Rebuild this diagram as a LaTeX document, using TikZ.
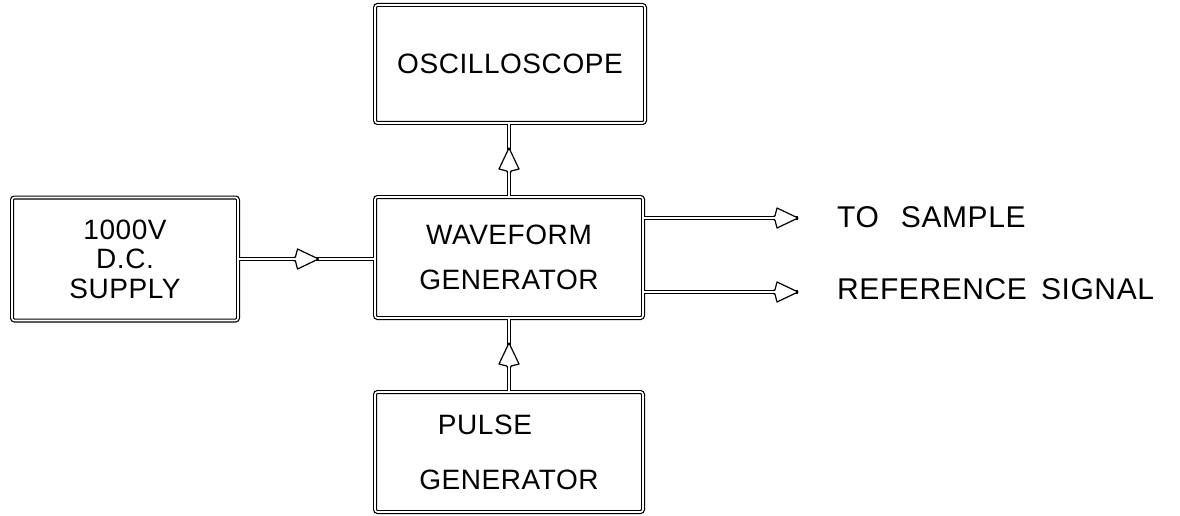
\documentclass[tikz,border=0pt]{standalone}
\usepackage{fontspec}
\newfontfamily\lblfont[LetterSpace=2]{Liberation Sans}
\usetikzlibrary{decorations.markings}
\begin{document}
\begin{tikzpicture}[x=1pt,y=-1pt,
  lbl/.style={font=\lblfont\fontsize{28}{33}\selectfont, align=center},
  sidelbl/.style={font=\lblfont\fontsize{30}{35}\selectfont, inner sep=0pt, anchor=west},
  box/.style={lbl, draw=black, double=white, double distance=1.6pt, line width=1.2pt,
    rounded corners=2.5pt, inner sep=0pt},
  conn/.style={draw=black, double=white, double distance=1.6pt, line width=1.2pt},
  midhead/.style={postaction={decorate}, decoration={markings,
    mark=at position 0.5 with {
      \fill[white] (-11pt,2pt) -- (-9pt,10pt) .. controls (1pt,5pt) .. (12pt,0pt)
        .. controls (1pt,-5pt) .. (-9pt,-10pt) -- (-11pt,-2pt) -- cycle;
      \draw[line width=1.2pt, line join=round] (-13pt,1.4pt) -- (-11pt,2.2pt) -- (-9pt,10pt)
        .. controls (1pt,5pt) .. (12pt,0pt)
        .. controls (1pt,-5pt) .. (-9pt,-10pt) -- (-11pt,-2.2pt) -- (-13pt,-1.4pt);}}},
  endhead/.style={postaction={decorate}, decoration={markings,
    mark=at position 1 with {
      \fill[white] (-23pt,2pt) -- (-21pt,10pt) .. controls (-11pt,5pt) .. (0pt,0pt)
        .. controls (-11pt,-5pt) .. (-21pt,-10pt) -- (-23pt,-2pt) -- cycle;
      \draw[line width=1.2pt, line join=round] (-25pt,1.4pt) -- (-23pt,2.2pt) -- (-21pt,10pt)
        .. controls (-11pt,5pt) .. (0pt,0pt)
        .. controls (-11pt,-5pt) .. (-21pt,-10pt) -- (-23pt,-2.2pt) -- (-25pt,-1.4pt);}}}
]
\useasboundingbox (0,0) rectangle (1180,516);

% boxes
\node[box, minimum width=270pt, minimum height=118pt] (osc) at (510,64) {OSCILLOSCOPE};
\node[box, minimum width=226pt, minimum height=123pt, font=\lblfont\fontsize{28}{29.5}\selectfont]
  (dc) at (125,259) {1000V\\D.C.\\SUPPLY};
\node[box, minimum width=268pt, minimum height=121pt] (wf) at (509,257.5) {WAVEFORM\\[12pt]GENERATOR};
\node[box, minimum width=268pt, minimum height=120pt] (pulse) at (509,452)
  {\mbox{PULSE\kern48pt}\\[22pt]GENERATOR};

% output ends and labels
\coordinate (ts) at (798,218);
\coordinate (rs) at (798,292);
\node[sidelbl] (tslbl) at (837,217) {TO\hspace{22pt}SAMPLE};
\node[sidelbl] (rslbl) at (837,289) {REFERENCE\hspace{14pt}SIGNAL};

% connectors
\draw[conn] (dc.east) -- (dc.east -| wf.west);
\draw[conn] (wf.north) -- (wf.north |- osc.south);
\draw[conn] (pulse.north) -- (pulse.north |- wf.south);
\draw[conn] (wf.east |- ts) -- (ts);
\draw[conn] (wf.east |- rs) -- (rs);

% arrowheads
\path[midhead] (dc.east) -- (dc.east -| wf.west);
\path[midhead] (wf.north) -- (wf.north |- osc.south);
\path[midhead] (pulse.north) -- (pulse.north |- wf.south);
\path[endhead] (wf.east |- ts) -- (ts);
\path[endhead] (wf.east |- rs) -- (rs);
\end{tikzpicture}
\end{document}
